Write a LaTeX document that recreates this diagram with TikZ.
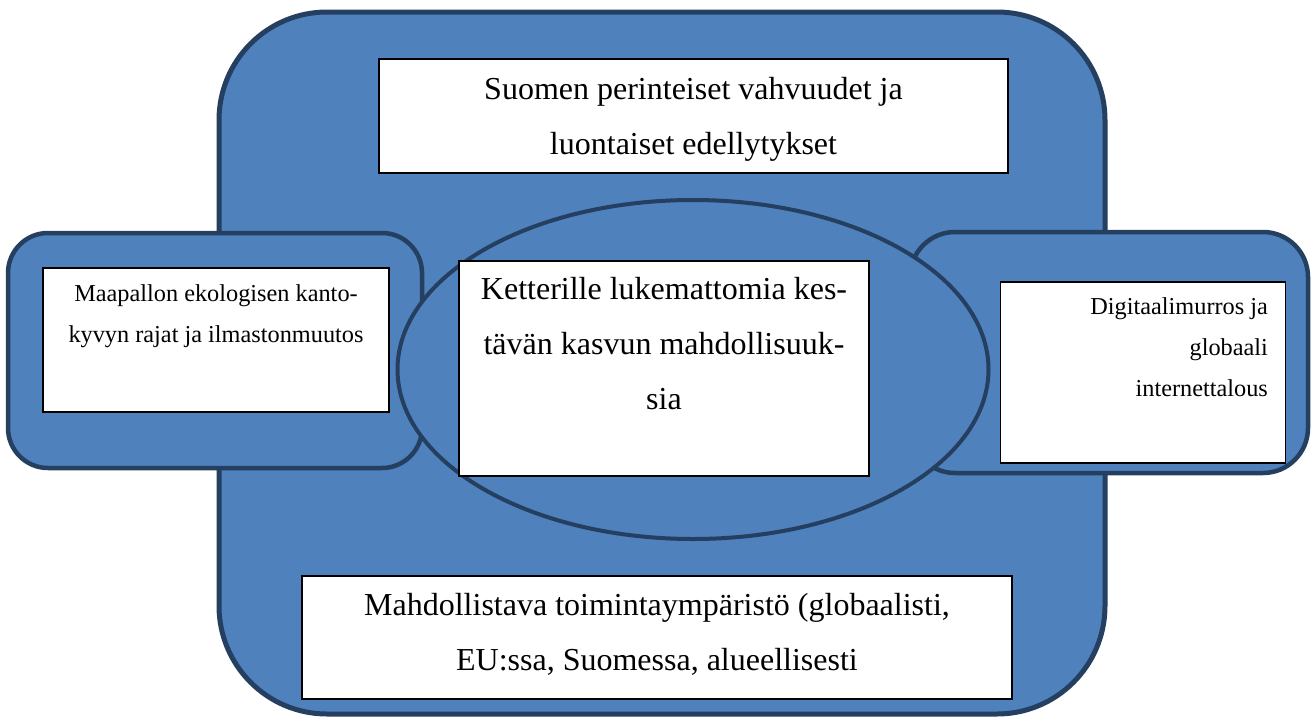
\documentclass[tikz,border=0pt]{standalone}
\usepackage{fontspec}
\setmainfont{Liberation Serif}
\usetikzlibrary{positioning,shapes.geometric}
\definecolor{panelfill}{HTML}{4F81BD}
\definecolor{panelline}{HTML}{243F60}

\begin{document}
\begin{tikzpicture}[x=1pt, y=-1pt,
  panel/.style={draw=panelline, fill=panelfill, line width=4.5pt, inner sep=0pt},
  card/.style={draw=black, fill=white, line width=1.2pt, inner sep=0pt},
  bigtext/.style={font=\fontsize{32}{55}\selectfont, align=center,
                  anchor=base, inner sep=0pt},
  smalltext/.style={font=\fontsize{24.3}{41}\selectfont,
                    anchor=base, inner sep=0pt},
  ]
  \useasboundingbox (0,0) rectangle (1315,718);

  \node[panel, rounded corners=108pt, line width=5pt,
        minimum width=886pt, minimum height=702pt] (frame) at (662,363) {};
  \node[panel, rounded corners=40pt,
        minimum width=414pt, minimum height=235pt] (leftpanel) at (215,350.5) {};
  \node[panel, rounded corners=45pt,
        minimum width=398pt, minimum height=241pt] (rightpanel) at (1109,352.5) {};
  \node[panel, ellipse, line width=4pt,
        minimum width=591pt, minimum height=339pt] (core) at (693,369.5) {};

  \node[card, minimum width=629pt, minimum height=114pt] (topcard) at (693.5,116) {};
  \node[card, minimum width=410pt, minimum height=215pt] (corecard) at (664,368.5) {};
  \node[card, minimum width=346pt, minimum height=144pt] (leftcard) at (216,340) {};
  \node[card, minimum width=285pt, minimum height=181pt] (rightcard) at (1143,372.5) {};
  \node[card, minimum width=710pt, minimum height=123pt] (bottomcard) at (657,637.5) {};

  % base of a multi-line node sits on its last line
  \node[bigtext] (toplabel) at ([yshift=-96pt]topcard.north)
    {Suomen perinteiset vahvuudet ja\\luontaiset edellytykset};
  \node[bigtext] (corelabel) at ([yshift=-149pt]corecard.north)
    {Ketterille lukemattomia kes-\\tävän kasvun mahdollisuuk-\\sia};
  \node[bigtext] (bottomlabel) at ([yshift=-95pt]bottomcard.north)
    {Mahdollistava toimintaympäristö (globaalisti,\\EU:ssa, Suomessa, alueellisesti};
  \node[smalltext, align=center] (leftlabel) at ([yshift=-75pt]leftcard.north)
    {Maapallon ekologisen kanto-\\kyvyn rajat ja ilmastonmuutos};
  \node[smalltext, align=right, anchor=base east] (rightlabel)
    at ([xshift=-18pt,yshift=-115pt]rightcard.north east)
    {Digitaalimurros ja\\globaali\\internettalous};
\end{tikzpicture}
\end{document}
